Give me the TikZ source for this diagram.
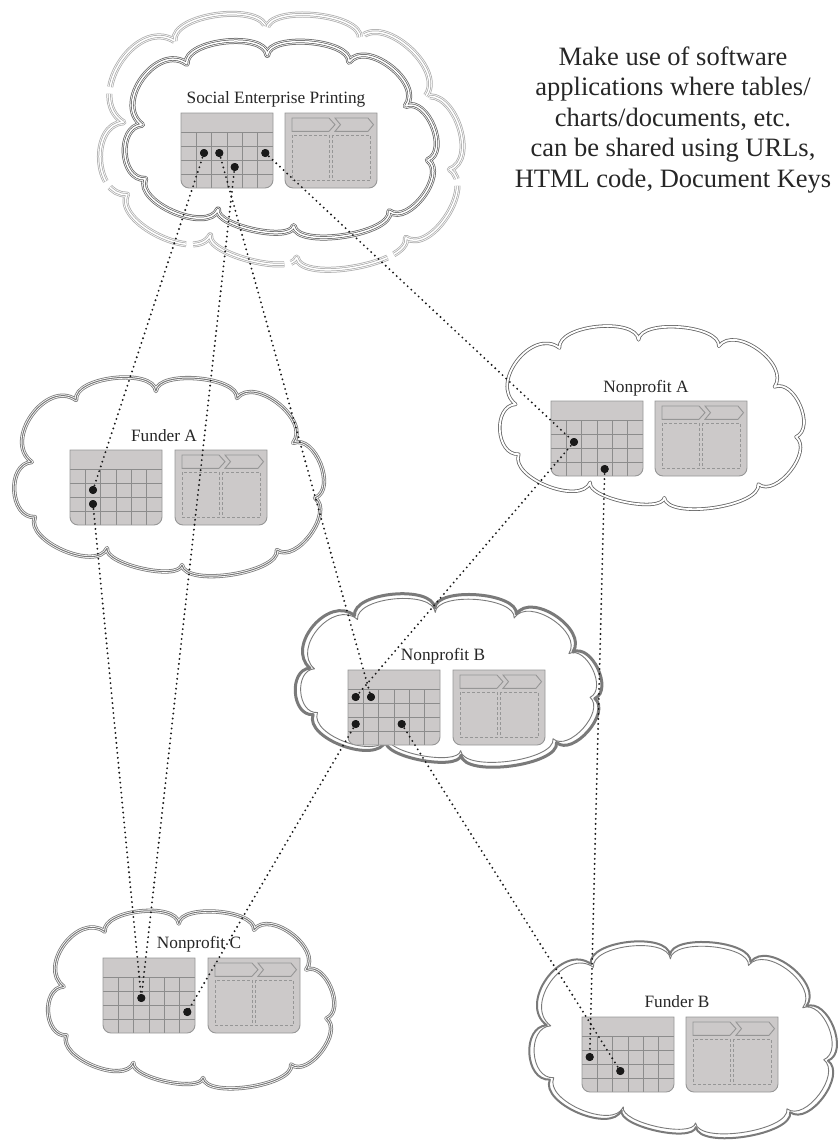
\documentclass[tikz,border=0pt]{standalone}
\usepackage{fontspec}
\setmainfont{Liberation Serif}
\definecolor{tablefill}{RGB}{204,201,201}
\definecolor{gridgray}{RGB}{140,140,140}
\definecolor{edgegray}{RGB}{150,150,150}
\definecolor{dashgray}{RGB}{150,150,150}
\definecolor{cloudmid}{RGB}{122,122,122}
\definecolor{clouddark}{RGB}{100,100,100}
\definecolor{cloudlight}{RGB}{172,172,172}
\definecolor{dotblack}{RGB}{25,25,25}

% one cloud outline inside the box (\cx,\cy) of size \cw x \ch (y grows downwards)
\newcommand\cloudrun[1]{%
  \draw[line join=round,#1] ({\cx+0.199*\cw},{\cy+0.113*\ch})
    to[bend left=90,looseness=0.75] ({\cx+0.459*\cw},{\cy+0.067*\ch})
    to[bend left=90,looseness=0.68] ({\cx+0.723*\cw},{\cy+0.103*\ch})
    to[bend left=90,looseness=1.02] ({\cx+0.906*\cw},{\cy+0.333*\ch})
    to[bend left=90,looseness=1.02] ({\cx+0.977*\cw},{\cy+0.615*\ch})
    to[bend left=90,looseness=0.95] ({\cx+0.853*\cw},{\cy+0.882*\ch})
    to[bend left=90,looseness=0.61] ({\cx+0.544*\cw},{\cy+0.959*\ch})
    to[bend left=90,looseness=0.55] ({\cx+0.300*\cw},{\cy+0.872*\ch})
    to[bend left=90,looseness=0.85] ({\cx+0.065*\cw},{\cy+0.713*\ch})
    to[bend left=90,looseness=1.19] ({\cx+0.055*\cw},{\cy+0.431*\ch})
    to[bend left=90,looseness=1.23] ({\cx+0.199*\cw},{\cy+0.113*\ch}) -- cycle;}
% place a cloud: x, y, width, height, strokes
\newcommand\placecloud[5]{%
  \begingroup\def\cx{#1}\def\cy{#2}\def\cw{#3}\def\ch{#4}#5\endgroup}
\newcommand\tripleline[1]{%
  \cloudrun{draw=#1,line width=4.2pt}%
  \cloudrun{draw=white,line width=2.6pt}%
  \cloudrun{draw=#1,line width=1pt}}
\newcommand\quadline[2]{%
  \cloudrun{draw=#1,line width=6pt,#2}%
  \cloudrun{draw=white,line width=4.5pt,#2}%
  \cloudrun{draw=#1,line width=3pt,#2}%
  \cloudrun{draw=white,line width=1.5pt,#2}}
\newcommand\doubleline[1]{%
  \cloudrun{draw=#1,line width=3.4pt}%
  \cloudrun{draw=white,line width=1.8pt}}

\tikzset{
  gridline/.style={draw=gridgray,line width=0.9pt},
  boxedge/.style={draw=edgegray,line width=0.9pt},
  chevron/.style={draw=edgegray,line width=0.9pt,fill=tablefill},
  dashbox/.style={draw=dashgray,line width=0.8pt,dash pattern=on 3pt off 2pt},
  dotline/.style={draw=dotblack,line width=2.1pt,line cap=round,dash pattern=on 0pt off 5pt},
  marker/.style={circle,fill=dotblack,inner sep=0pt,minimum size=8pt},
  label/.style={font=\fontsize{17.3}{20}\selectfont,text=black!85,inner sep=0pt,anchor=base},
  datatable/.pic={
    \path[fill=tablefill] (0,0) -- (92,0) -- (92,67)
      arc[start angle=0,end angle=-90,radius=8pt] -- (8,75)
      arc[start angle=-90,end angle=-180,radius=8pt] -- cycle;
    \foreach \yy in {19,33,47,61} \draw[gridline] (0,\yy) -- (92,\yy);
    \foreach \xx in {15.33,30.67,46,61.33,76.67} \draw[gridline] (\xx,19) -- (\xx,75);
    \draw[boxedge] (0,0) -- (92,0) -- (92,67)
      arc[start angle=0,end angle=-90,radius=8pt] -- (8,75)
      arc[start angle=-90,end angle=-180,radius=8pt] -- cycle;
  },
  flowpanel/.pic={
    \draw[boxedge,fill=tablefill] (0,0) -- (92,0) -- (92,67)
      arc[start angle=0,end angle=-90,radius=8pt] -- (8,75)
      arc[start angle=-90,end angle=-180,radius=8pt] -- cycle;
    \draw[chevron] (7,5) -- (44,5) -- (50,11.7) -- (44,18.3) -- (7,18.3) -- cycle;
    \draw[chevron] (50,5) -- (83,5) -- (88.5,11.7) -- (83,18.3) -- (50,18.3) -- (55.5,11.7) -- cycle;
    \draw[dashbox] (7.5,22) rectangle (44,67.5);
    \draw[dashbox] (47.5,22) rectangle (85,67.5);
  },
}

\begin{document}
\begin{tikzpicture}[x=1pt,y=-1pt]
\useasboundingbox (0,0) rectangle (840,1141);

% clouds
\placecloud{104}{12}{354}{256}{\quadline{cloudlight}{dash pattern=on 105pt off 7pt}}
\placecloud{125}{42}{310}{192}{\quadline{clouddark}{}}
\placecloud{15}{378}{307}{195}{\tripleline{cloudmid}}
\placecloud{499}{328}{304}{177}{\doubleline{clouddark}}
\placecloud{293}{597}{309}{165}{\cloudrun{draw=cloudmid,line width=3pt}}
\placecloud{298}{602}{299}{155}{\cloudrun{draw=cloudmid,line width=0.9pt}}
\placecloud{48}{912}{285}{173}{\tripleline{cloudmid}}
\placecloud{530}{942}{305}{193}{\cloudrun{draw=cloudmid,line width=2pt}}
\placecloud{534.5}{946.5}{296}{184}{\cloudrun{draw=cloudmid,line width=0.9pt}}

% labels
\node[label] (lsep) at (276,103) {Social Enterprise Printing};
\node[label] (lfa) at (164,441) {Funder A};
\node[label] (lna) at (646,392) {Nonprofit A};
\node[label] (lnb) at (443,660) {Nonprofit B};
\node[label] (lnc) at (199,948) {Nonprofit C};
\node[label] (lfb) at (677,1007) {Funder B};

\node[font=\fontsize{26.5}{30.5}\selectfont,text=black!85,align=center,inner sep=0pt] (note) at (673,120)
  {Make use of software\\applications where tables/\\charts/documents, etc.\\can be shared using URLs,\\HTML code, Document Keys};

% tables and panels
\pic at (181,113) {datatable};  \pic at (285,113) {flowpanel};
\pic at (70,450) {datatable};   \pic at (175,450) {flowpanel};
\pic at (551,401) {datatable};  \pic at (655,401) {flowpanel};
\pic at (348,670) {datatable};  \pic at (453,670) {flowpanel};
\pic at (103,958) {datatable};  \pic at (208,958) {flowpanel};
\pic at (582,1017) {datatable}; \pic at (686,1017) {flowpanel};

% shared cells
\node[marker] (sep1) at (204,153) {};
\node[marker] (sep2) at (219.3,153) {};
\node[marker] (sep3) at (234.7,167) {};
\node[marker] (sep4) at (265.3,153) {};
\node[marker] (fa1) at (93,490) {};
\node[marker] (fa2) at (93,504) {};
\node[marker] (na1) at (574,442) {};
\node[marker] (na2) at (604.7,469) {};
\node[marker] (nb1) at (355.7,697) {};
\node[marker] (nb2) at (371,697) {};
\node[marker] (nb3) at (355.7,724) {};
\node[marker] (nb4) at (401.7,724) {};
\node[marker] (nc1) at (141.3,998) {};
\node[marker] (nc2) at (187.3,1012) {};
\node[marker] (fb1) at (589.7,1057) {};
\node[marker] (fb2) at (620.3,1071) {};

% links
\draw[dotline] (sep1.center) -- (fa1.center);
\draw[dotline] (fa2.center) -- (nc1.center);
\draw[dotline] (sep3.center) -- (nc1.center);
\draw[dotline] (sep2.center) -- (nb2.center);
\draw[dotline] (sep4.center) -- (na1.center);
\draw[dotline] (na1.center) -- (nb1.center);
\draw[dotline] (nb3.center) -- (nc2.center);
\draw[dotline] (nb4.center) -- (fb2.center);
\draw[dotline] (na2.center) -- (fb1.center);

% redraw markers above the links
\foreach \m in {sep1,sep2,sep3,sep4,fa1,fa2,na1,na2,nb1,nb2,nb3,nb4,nc1,nc2,fb1,fb2}
  \fill[dotblack] (\m.center) circle[radius=4pt];
\end{tikzpicture}
\end{document}
